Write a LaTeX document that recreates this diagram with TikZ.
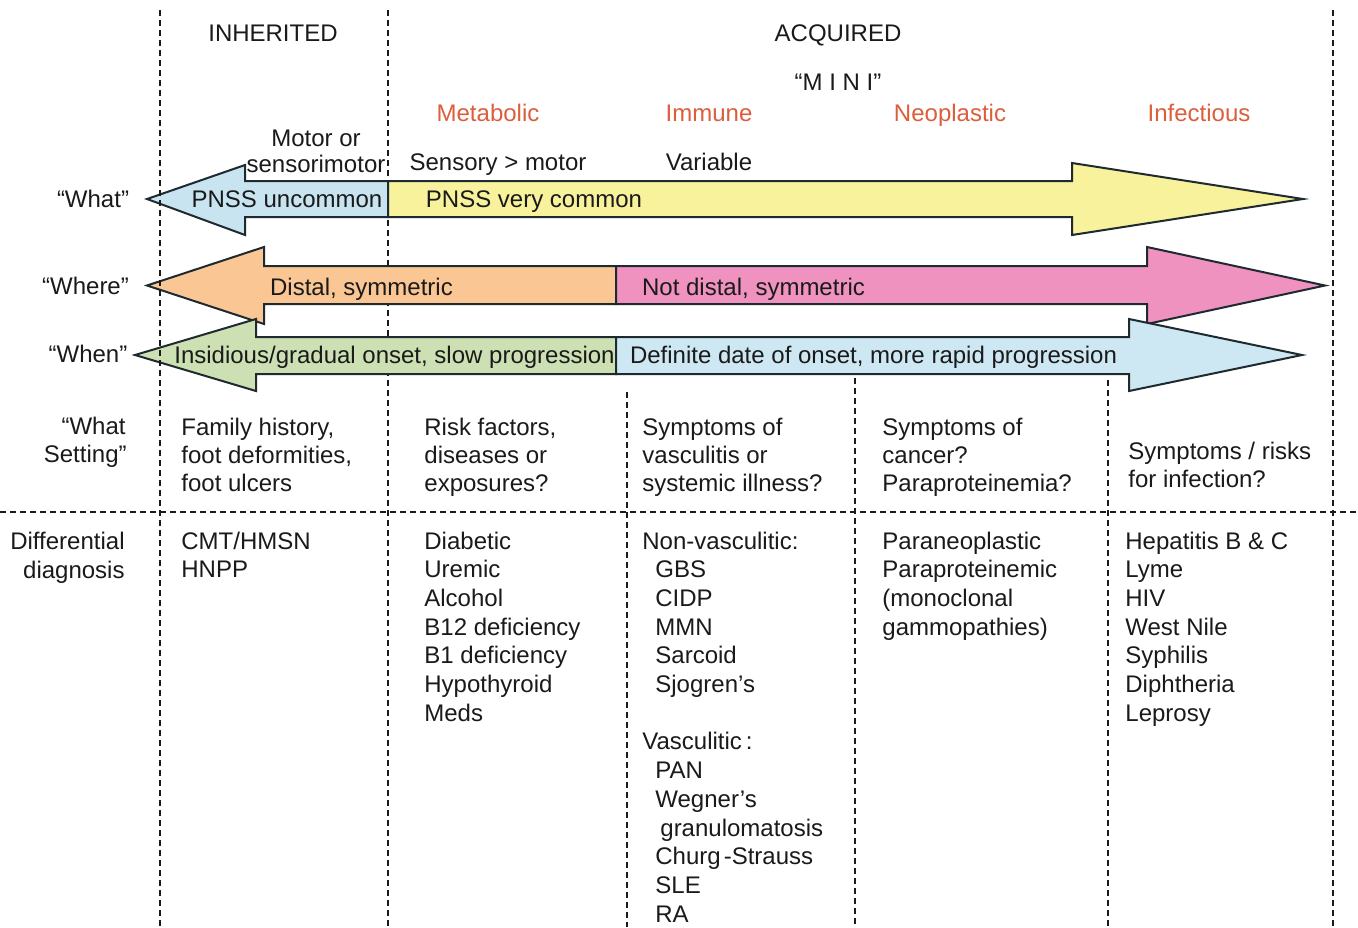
\documentclass[tikz,border=0pt]{standalone}
\usepackage{fontspec}
\setmainfont{Liberation Sans}
\definecolor{cblue}{HTML}{C8E4F0}
\definecolor{cyellow}{HTML}{F8F29C}
\definecolor{corange}{HTML}{FAC794}
\definecolor{cpink}{HTML}{EF92BF}
\definecolor{cgreen}{HTML}{CCE0B4}
\definecolor{ccyan}{HTML}{CDE8F2}
\definecolor{minired}{HTML}{DC5E3C}
\definecolor{ink}{HTML}{1A1A1A}
\definecolor{edge}{HTML}{1E2A30}
\begin{document}
\begin{tikzpicture}[x=0.5pt,y=-0.5pt,
  txt/.style={inner sep=0pt, font=\fontsize{12}{14}\selectfont, text=ink},
  mini/.style={txt, text=minired, anchor=base},
  ctr/.style={txt, anchor=base},
  item/.style={txt, anchor=base west},
  ritem/.style={txt, anchor=base east},
  divline/.style={draw=ink, line width=0.8pt, dash pattern=on 3pt off 2pt},
  arrowpart/.style={draw=edge, line width=1pt, line join=miter}]
\fill[white] (0,0) rectangle (1358,927);
\useasboundingbox (0,0) rectangle (1358,927);

% grid lines behind arrows
\draw[divline] (388,10) -- (388,927);
\draw[divline] (1333,10) -- (1333,927);
\draw[divline] (0,512) -- (1358,512);
\draw[divline] (627,392) -- (627,927);
\draw[divline] (855,378) -- (855,927);
\draw[divline] (1108,380) -- (1108,927);

% arrow 1 (What)
\filldraw[arrowpart, fill=cblue] (388,181) -- (245,181) -- (245,165) -- (147,199) -- (245,235) -- (245,217) -- (388,217) -- cycle;
\filldraw[arrowpart, fill=cyellow] (388,181) -- (1072,181) -- (1072,163) -- (1303,199) -- (1072,235) -- (1072,217) -- (388,217) -- cycle;
% arrow 2 (Where)
\filldraw[arrowpart, fill=corange] (616,266) -- (264,266) -- (264,247) -- (147,285.5) -- (264,324) -- (264,304) -- (616,304) -- cycle;
\filldraw[arrowpart, fill=cpink] (616,266) -- (1147,266) -- (1147,247) -- (1325,285.5) -- (1147,324) -- (1147,304) -- (616,304) -- cycle;
% arrow 3 (When)
\filldraw[arrowpart, fill=cgreen] (616,337) -- (256,337) -- (256,319) -- (135,355) -- (256,391) -- (256,374) -- (616,374) -- cycle;
\filldraw[arrowpart, fill=ccyan] (616,337) -- (1129,337) -- (1129,319) -- (1302,355) -- (1129,391) -- (1129,374) -- (616,374) -- cycle;

\draw[divline] (160,10) -- (160,927);

% headers
\node[ctr] (inherited) at (273,41.5) {INHERITED};
\node[ctr] (acquired) at (838,41.5) {ACQUIRED};
\node[ctr] (mini) at (838,90) {“M I N I”};
\node[mini] (metabolic) at (488,121.5) {Metabolic};
\node[mini] (immune) at (709,121.5) {Immune};
\node[mini] (neoplastic) at (950,121.5) {Neoplastic};
\node[mini] (infectious) at (1199,121.5) {Infectious};

\node[ctr] (motor1) at (316,146.5) {Motor or};
\node[ctr] (motor2) at (316,172) {sensorimotor};
\node[ctr] (sensory) at (498,170.5) {Sensory > motor};
\node[ctr] (variable) at (709,170.5) {Variable};

% arrow labels
\node[ctr] (what) at (93,207.5) {“What”};
\node[ctr] (pnssu) at (287,207.5) {PNSS uncommon};
\node[ctr] (pnssc) at (534,207.5) {PNSS very common};
\node[ctr] (where) at (85.5,294.5) {“Where”};
\node[ctr] (distal) at (361.5,295) {Distal, symmetric};
\node[ctr] (notdistal) at (753.5,295) {Not distal, symmetric};
\node[ctr] (when) at (88,362.5) {“When”};
\node[ctr] (insid) at (394.5,363) {Insidious/gradual onset, slow progression};
\node[ctr] (defin) at (873.5,363) {Definite date of onset, more rapid progression};

% setting row
\node[ritem] (set1) at (126,434.5) {“What};
\node[ritem] (set2) at (127,462.5) {Setting”};
\foreach \t [count=\i from 0] in {{Family history,},{foot deformities,},{foot ulcers}}
  \node[item] (sa\i) at (181,{435.5+\i*28}) {\t};
\foreach \t [count=\i from 0] in {{Risk factors,},{diseases or},{exposures?}}
  \node[item] (sb\i) at (424,{435.5+\i*28}) {\t};
\foreach \t [count=\i from 0] in {{Symptoms of},{vasculitis or},{systemic illness?}}
  \node[item] (sc\i) at (642,{435.5+\i*28}) {\t};
\foreach \t [count=\i from 0] in {{Symptoms of},{cancer?},{Paraproteinemia?}}
  \node[item] (sd\i) at (882,{435.5+\i*28}) {\t};
\foreach \t [count=\i from 0] in {{Symptoms / risks},{for infection?}}
  \node[item] (se\i) at (1128,{459.5+\i*28}) {\t};

% differential row
\node[ritem] (dd1) at (125,549.5) {Differential};
\node[ritem] (dd2) at (125,578) {diagnosis};
\foreach \t [count=\i from 0] in {CMT/HMSN,HNPP}
  \node[item] (da\i) at (181,{549+\i*28.7}) {\t};
\foreach \t [count=\i from 0] in {Diabetic,Uremic,Alcohol,B12 deficiency,B1 deficiency,Hypothyroid,Meds}
  \node[item] (db\i) at (424,{549+\i*28.7}) {\t};
\node[item] (dc0) at (642,549) {Non-vasculitic:};
\foreach \t [count=\i from 1] in {GBS,CIDP,MMN,Sarcoid,Sjogren’s}
  \node[item] (dc\i) at (655,{549+\i*28.7}) {\t};
\node[item] (dc7) at (642,{549+7*28.7}) {Vasculitic\kern2pt:};
\foreach \t [count=\i from 8] in {PAN,Wegner’s}
  \node[item] (dc\i) at (655,{549+\i*28.7}) {\t};
\node[item] (dc10) at (660,{549+10*28.7}) {granulomatosis};
\foreach \t [count=\i from 11] in {Churg\kern1.5pt-Strauss,SLE,RA}
  \node[item] (dc\i) at (655,{549+\i*28.7}) {\t};
\node[item] (dd0) at (882,549) {Paraneoplastic};
\node[item] (dd1) at (882,{549+28.7}) {Paraproteinemic};
\node[item] (dd2) at (882,{549+2*28.7}) {(monoclonal};
\node[item] (dd3) at (882,{549+3*28.7}) {gammopathies)};
\foreach \t [count=\i from 0] in {Hepatitis B \& C,Lyme,HIV,West Nile,Syphilis,Diphtheria,Leprosy}
  \node[item] (de\i) at (1125,{549+\i*28.7}) {\t};
\end{tikzpicture}
\end{document}
